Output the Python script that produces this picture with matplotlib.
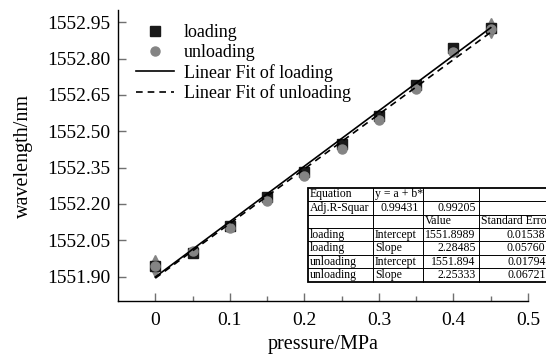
import numpy as np
import matplotlib
matplotlib.use('Agg')
import matplotlib.pyplot as plt
from matplotlib.lines import Line2D

plt.rcParams['font.family'] = ['Liberation Serif', 'DejaVu Serif']
plt.rcParams['mathtext.fontset'] = 'stix'

# datos
presion = [0.0, 0.05, 0.10, 0.15, 0.20, 0.25, 0.30, 0.35, 0.40, 0.45]
carga = [1551.945, 1551.996, 1552.111, 1552.227, 1552.334, 1552.448,
         1552.562, 1552.691, 1552.844, 1552.926]
descarga = [1551.945, 1552.006, 1552.100, 1552.214, 1552.316, 1552.428,
            1552.548, 1552.675, 1552.825, 1552.920]
err_carga = [0.028, 0, 0, 0, 0, 0, 0, 0, 0, 0.024]

# ajuste lineal (de la tabla)
a_carga, b_carga = 1551.8989, 2.28485
a_descarga, b_descarga = 1551.894, 2.25333

yticks = [1551.90, 1552.05, 1552.20, 1552.35, 1552.50, 1552.65, 1552.80, 1552.95]
xticks = [0, 0.1, 0.2, 0.3, 0.4, 0.5]

tabla = [
    ["Equation", "y = a + b*", "", ""],
    ["Adj.R-Squar", "0.99431", "0.99205", ""],
    ["", "", "Value", "Standard Erro"],
    ["loading", "Intercept", "1551.8989", "0.01538"],
    ["loading", "Slope", "2.28485", "0.05760"],
    ["unloading", "Intercept", "1551.894", "0.01794"],
    ["unloading", "Slope", "2.25333", "0.06721"],
]

W, H = 546, 356
fig = plt.figure(figsize=(W / 100, H / 100), dpi=100)
ax = fig.add_axes([118 / W, 1 - 301 / H, (528 - 118) / W, (301 - 10) / H])

x = np.array(presion)
xf = np.array([0, 0.45])
gris = '#848484'

# barras de error (puntas triangulares)
for xi, yi, ei in zip(presion, carga, err_carga):
    if ei > 0:
        ax.plot([xi, xi], [yi - ei, yi + ei], color=gris, lw=1, zorder=2)
        ax.plot(xi, yi + ei, marker='^', color=gris, ms=5.5, zorder=2)
        ax.plot(xi, yi - ei, marker='v', color=gris, ms=5.5, zorder=2)

ax.plot(x, carga, 's', color='#1a1a1a', ms=6.5, zorder=3)
ax.plot(x, descarga, 'o', color=gris, ms=6.5, zorder=4)
ax.plot(xf, a_carga + b_carga * xf, '-', color='black', lw=1.2, zorder=5)
ax.plot(xf, a_descarga + b_descarga * xf, '--', color='black', lw=1.2,
        dashes=(4, 3), zorder=5)

ax.set_xlim(-0.05, 0.5)
ax.set_ylim(1551.80, 1553.0)
ax.set_xticks(xticks)
ax.set_xticklabels(['0', '0.1', '0.2', '0.3', '0.4', '0.5'])
ax.set_xticks([0.05, 0.15, 0.25, 0.35, 0.45], minor=True)
ax.set_yticks(yticks)
ax.set_yticklabels(['%.2f' % v for v in yticks])
ax.tick_params(axis='both', which='major', direction='in', length=6,
               width=1, color='#707070', labelsize=14)
ax.tick_params(axis='x', which='major', pad=8)
ax.tick_params(axis='y', which='major', pad=5.5)
ax.tick_params(axis='x', which='minor', direction='in', length=3.5,
               width=1, color='#707070')
ax.spines['top'].set_visible(False)
ax.spines['right'].set_visible(False)
ax.spines['left'].set_linewidth(1)
ax.spines['bottom'].set_linewidth(1)

ax.set_xlabel('pressure/MPa', fontsize=14.5, labelpad=4.5)
ax.set_ylabel('wavelength/nm', fontsize=14.5, labelpad=10)

handles = [
    Line2D([], [], ls='none', marker='s', color='#1a1a1a', ms=6.5),
    Line2D([], [], ls='none', marker='o', color=gris, ms=6.5),
    Line2D([], [], ls='-', color='black', lw=1.2),
    Line2D([], [], ls='--', color='black', lw=1.2, dashes=(4, 3)),
]
etiquetas = ['loading', 'unloading', 'Linear Fit of loading', 'Linear Fit of unloading']
leg = ax.legend(handles, etiquetas, loc='upper left', frameon=False,
                fontsize=13, handlelength=2.1, handletextpad=0.55,
                labelspacing=0.15, borderaxespad=0,
                bbox_to_anchor=((133 - 118) / (528 - 118) - 0.01, 1 - 7 / 291))

# tabla del ajuste, en coordenadas de pixel
tab = fig.add_axes([0, 0, 1, 1], zorder=10)
tab.set_xlim(0, W)
tab.set_ylim(H, 0)
tab.axis('off')
col_x = [308, 373, 422.5, 479, 549]
fila_y0, fila_y1 = 187.7, 281.7
nf = len(tabla)
dy = (fila_y1 - fila_y0) / nf
tab.add_patch(plt.Rectangle((col_x[0], fila_y0), col_x[-1] - col_x[0],
                            fila_y1 - fila_y0, facecolor='white',
                            edgecolor='black', lw=1.3, clip_on=False))
for i in range(1, nf):
    y = fila_y0 + i * dy
    tab.plot([col_x[0], col_x[-1]], [y, y], color='black', lw=0.7)
for c in col_x[1:-1]:
    tab.plot([c, c], [fila_y0, fila_y1], color='black', lw=0.7)
for i, fila in enumerate(tabla):
    yc = fila_y0 + (i + 0.5) * dy
    for j, txt in enumerate(fila):
        if not txt:
            continue
        es_num = txt[0].isdigit()
        if es_num:
            tab.text(col_x[j + 1] - 3.5, yc, txt, ha='right', va='center',
                     fontsize=8.5)
        else:
            tab.text(col_x[j] + 2, yc, txt, ha='left', va='center',
                     fontsize=8.5)

fig.savefig('out.png', dpi=100)
